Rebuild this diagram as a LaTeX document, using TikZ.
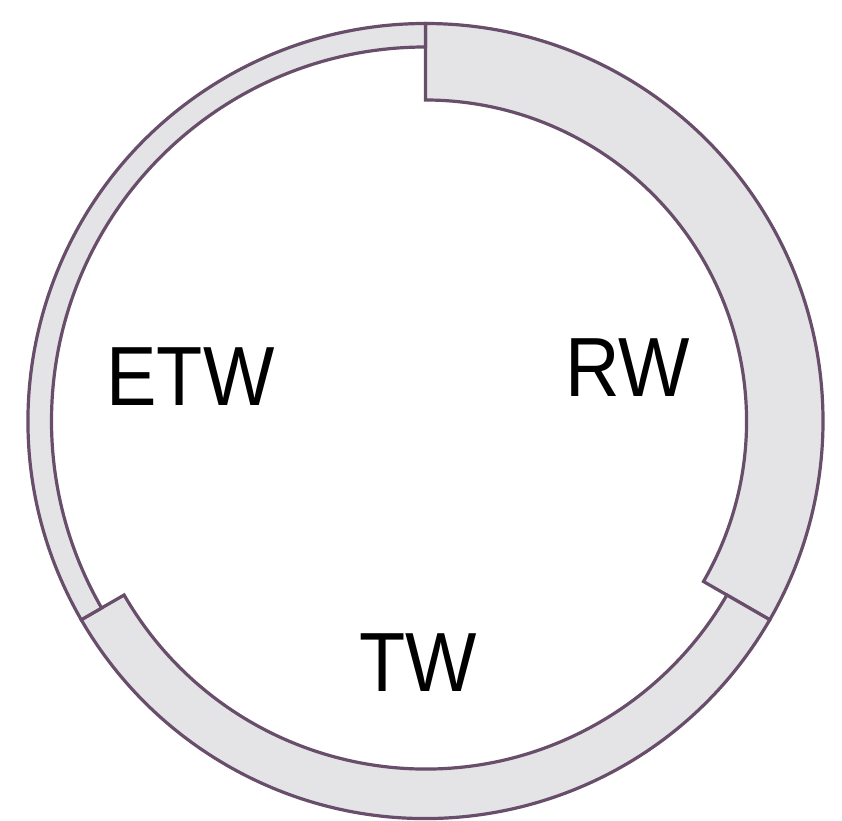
\documentclass[tikz,border=0pt]{standalone}
\usepackage{fontspec}
\setmainfont{Liberation Sans}
\definecolor{ringline}{RGB}{104,78,106}
\definecolor{ringfill}{RGB}{228,228,230}
\begin{document}
\begin{tikzpicture}[x=1pt,y=1pt,
  seg/.style={draw=ringline,fill=ringfill,line width=3.2pt,line join=miter},
  lbl/.style={font=\fontsize{84}{84}\selectfont,text=black,inner sep=0pt,anchor=base,xscale=0.9}]
\useasboundingbox (0,0) rectangle (842,820);
\fill[white] (0,0) rectangle (842,820);
\coordinate (c) at (425.5,399);
% RW segment
\draw[seg] ([shift={(90:397.5)}]c) arc[start angle=90,end angle=-30,radius=397.5]
  -- ([shift={(-30:321)}]c) arc[start angle=-30,end angle=90,radius=321] -- cycle;
% TW segment
\draw[seg] ([shift={(-30:397.5)}]c) arc[start angle=-30,end angle=-150,radius=397.5]
  -- ([shift={(-150:348)}]c) arc[start angle=-150,end angle=-30,radius=348] -- cycle;
% ETW segment
\draw[seg] ([shift={(210:397.5)}]c) arc[start angle=210,end angle=90,radius=397.5]
  -- ([shift={(90:374)}]c) arc[start angle=90,end angle=210,radius=374] -- cycle;
\node[lbl] (etw) at (190.5,415) {ETW};
\node[lbl] (rw) at (628,424) {RW};
\node[lbl] (tw) at (418,129) {TW};
\end{tikzpicture}
\end{document}
